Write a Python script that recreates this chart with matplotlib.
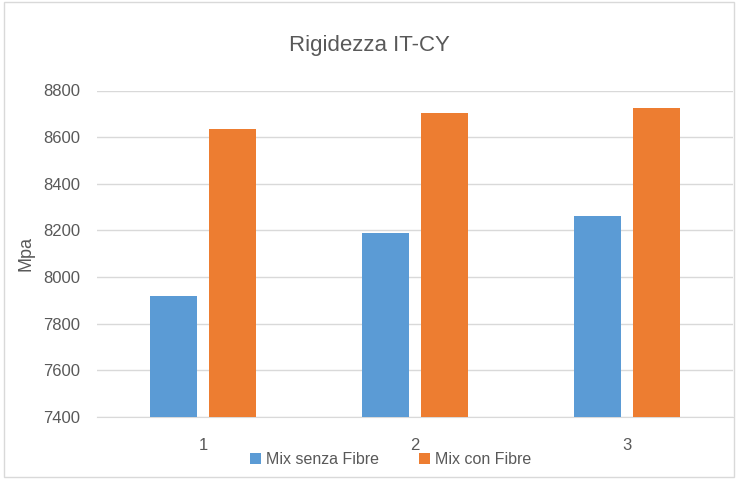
import matplotlib
matplotlib.use("Agg")
import matplotlib.pyplot as plt
import numpy as np
from matplotlib.patches import Rectangle

categories = ["1", "2", "3"]
senza = [7920, 8188, 8260]
con = [8635, 8702, 8724]
series_names = ["Mix senza Fibre", "Mix con Fibre"]
yticks = [7400, 7600, 7800, 8000, 8200, 8400, 8600, 8800]

plt.rcParams['font.family'] = ['Liberation Sans', 'DejaVu Sans']
txt = "#595959"

fig = plt.figure(figsize=(7.38, 4.79), dpi=100)
ax = fig.add_axes([97/738, 1-417/479, 636/738, 326.5/479])

x = np.arange(1, len(categories)+1)
w = 0.222
off = 0.14
ax.bar(x - off, senza, w, color="#5B9BD5", label=series_names[0], zorder=3)
ax.bar(x + off, con, w, color="#ED7D31", label=series_names[1], zorder=3)

ax.set_xlim(0.5, 3.5)
ax.set_ylim(7400, 8800)
ax.set_yticks(yticks)
ax.set_yticklabels([str(v) for v in yticks], fontsize=12, color=txt)
ax.set_xticks(x)
ax.set_xticklabels(categories, fontsize=12, color=txt)
ax.tick_params(axis='both', length=0)
ax.tick_params(axis='y', pad=12)
ax.tick_params(axis='x', pad=15)
ax.grid(axis='y', color="#D9D9D9", linewidth=1, zorder=0)
for s in ["top", "right", "left"]:
    ax.spines[s].set_visible(False)
ax.spines["bottom"].set_color("#D9D9D9")

ax.set_ylabel("Mpa", fontsize=13, color=txt, labelpad=6)
fig.text(0.5, 1-46/479, "Rigidezza IT-CY", ha="center", va="center", fontsize=16, color=txt)

leg = ax.legend(loc="center", bbox_to_anchor=(0.461, -0.13), ncol=2, frameon=False,
                fontsize=11.5, labelcolor=txt, handlelength=0.7, handleheight=0.7,
                handletextpad=0.3, columnspacing=2.5)

fig.patches.append(Rectangle((4/738, 0.005), 1-8/738, 0.99, transform=fig.transFigure,
                             fill=False, edgecolor="#D9D9D9", linewidth=1))

fig.savefig("out.png", dpi=100)
